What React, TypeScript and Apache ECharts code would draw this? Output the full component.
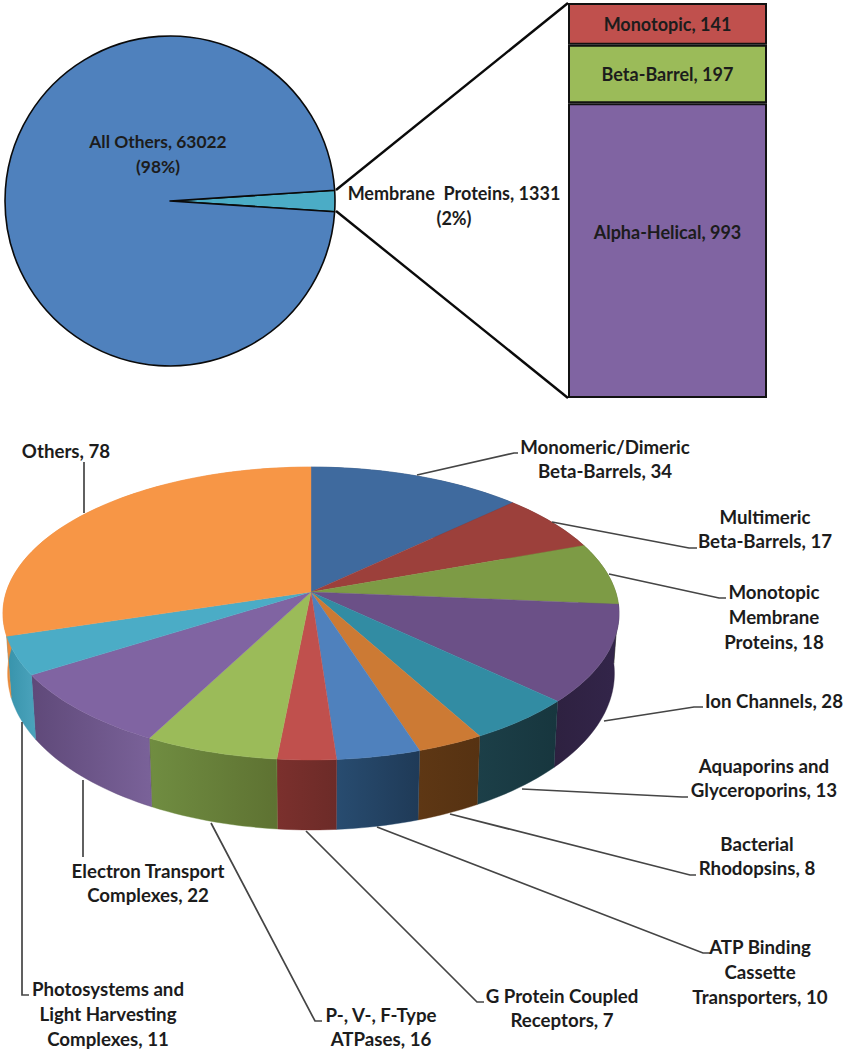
import React, { useEffect, useRef } from "react";
import * as echarts from "echarts";

// ---------- data ----------
const overviewNames = ["Membrane  Proteins", "All Others"];
const overviewValues = [1331, 63022];
const overviewPercents = ["2%", "98%"];

const classNames = ["Alpha-Helical", "Beta-Barrel", "Monotopic"];
const classValues = [993, 197, 141];

const familyNames = [
  "Monomeric/Dimeric\nBeta-Barrels",
  "Multimeric\nBeta-Barrels",
  "Monotopic\nMembrane\nProteins",
  "Ion Channels",
  "Aquaporins and\nGlyceroporins",
  "Bacterial\nRhodopsins",
  "ATP Binding\nCassette\nTransporters",
  "G Protein Coupled\nReceptors",
  "P-, V-, F-Type\nATPases",
  "Electron Transport\nComplexes",
  "Photosystems and\nLight Harvesting\nComplexes",
  "Others",
];
const familyValues = [34, 17, 18, 28, 13, 8, 10, 7, 16, 22, 11, 78];

// ---------- styles ----------
const FONT = "Lato";
const TEXT = "#1c1c1c";
const overviewColors = ["#4BACC6", "#4F81BD"];
const classColors = ["#8064A2", "#9BBB59", "#C0504D"];
const classLabelOffsets = [[0, -19], [0, 0], [0, 0]];
const topColors = ["#3F6A9E", "#9C403B", "#7D9B45", "#6B5087", "#328CA3", "#CC7A34", "#4F81BD", "#C0504D", "#9BBB59", "#8064A2", "#4BACC6", "#F79646"];
const wallColors = [
  ["#2A4A70", "#2A4A70"], ["#6E2D2A", "#6E2D2A"], ["#5A7032", "#5A7032"],
  ["#2E2140", "#33254A"], ["#1C3F48", "#17363E"], ["#5E3714", "#563212"],
  ["#284C70", "#1F3A57"], ["#7B302D", "#6C2B28"], ["#708D41", "#5E7232"],
  ["#5F4979", "#7A6299"], ["#3793AB", "#4BA3BC"], ["#E88A3C", "#F08F40"],
];

// label centre (x, y of block middle) and leader polyline, same order as families
const familyLabelPos = [
  [605, 459], [765, 529], [774, 617], [774, 701], [764, 778], [757, 856],
  [760, 972], [562, 1008], [381, 1027], [148, 883], [108, 1014], [66, 451],
];
const leaders = [
  [[417, 475], [514, 453], [518, 453]],
  [[552, 522], [689, 548], [697, 548]],
  [[609, 574], [719, 598], [726, 598]],
  [[604, 721], [694, 707], [703, 707]],
  [[522, 789], [682, 797], [688, 797]],
  [[450, 814], [690, 875], [696, 875]],
  [[377, 827], [703, 953], [710, 953]],
  [[306, 831], [477, 1002], [484, 1002]],
  [[211, 823], [315, 1021], [322, 1021]],
  [[83, 780], [83, 857]],
  [[22, 722], [22, 995], [29, 995]],
  [[84, 462], [84, 513]],
];

// perspective disc geometry
const CX = 311, CY = 592, BX = 304.7, AY = 143.3, K = 0.1468;
const project = (theta: number) => {
  const u = Math.sin(theta), v = -Math.cos(theta), w = 1 - K * v;
  return { x: CX + (BX * u) / w, y: CY + (AY * v) / w, v };
};
const projectBottom = (theta: number) => {
  const p = project(theta);
  return [CX + (p.x - CX) * 0.985, p.y + 58 + 12 * Math.max(p.v, 0)];
};

const familyTotal = familyValues.reduce((a, b) => a + b, 0);
const sliceRange = (i: number) => {
  const before = familyValues.slice(0, i).reduce((a, b) => a + b, 0);
  return [(before / familyTotal) * Math.PI * 2, ((before + familyValues[i]) / familyTotal) * Math.PI * 2];
};
const arcThetas = (a: number, b: number) => {
  const n = Math.max(2, Math.ceil((b - a) / (Math.PI / 120)));
  return Array.from({ length: n + 1 }, (_, k) => a + ((b - a) * k) / n);
};

const renderWall = (params: any) => {
  const i = params.dataIndex;
  const [a, b] = sliceRange(i);
  const ts = arcThetas(a, b);
  const top = ts.map((t) => { const p = project(t); return [p.x, p.y]; });
  const bottom = ts.map(projectBottom).reverse();
  const [c0, c1] = wallColors[i];
  const fill: any = { type: "linear", x: 0, y: 0, x2: 1, y2: 0, colorStops: [{ offset: 0, color: c0 }, { offset: 1, color: c1 }] };
  return { type: "polygon", shape: { points: [...top, ...bottom] }, style: { fill, stroke: c0, lineWidth: 0.4 } };
};
const renderTop = (params: any) => {
  const i = params.dataIndex;
  const [a, b] = sliceRange(i);
  const pts = arcThetas(a, b).map((t) => { const p = project(t); return [p.x, p.y]; });
  return { type: "polygon", shape: { points: [[CX, CY], ...pts] }, style: { fill: topColors[i], stroke: topColors[i], lineWidth: 0.4 } };
};

const txt = (text: string, x: number, y: number, fontSize = 18.7, lineHeight = 24.6) => ({
  type: "text", z: 100, x, y, silent: true,
  style: { text, fill: TEXT, font: `bold ${fontSize}px ${FONT}`, lineHeight, align: "center", verticalAlign: "middle" },
});
const blackLine = (x1: number, y1: number, x2: number, y2: number) => ({
  type: "line", z: 100, silent: true, shape: { x1, y1, x2, y2 }, style: { stroke: "#0a0a0a", lineWidth: 2.4 },
});

const overviewTotal = overviewValues.reduce((a, b) => a + b, 0);
const halfSliceDeg = ((overviewValues[0] / overviewTotal) * 360) / 2;

export default function App() {
  const ref = useRef<HTMLDivElement>(null);
  useEffect(() => {
    const chart = echarts.init(ref.current!, undefined, { renderer: "svg" });
    const option: any = {
      animation: false,
      backgroundColor: "#ffffff",
      grid: { left: 568, top: 3, width: 199, height: 395, containLabel: false },
      xAxis: { type: "category", data: ["Membrane Proteins"], show: false },
      yAxis: { type: "value", min: 0, max: overviewValues[0], show: false },
      series: [
        {
          type: "pie",
          center: [170, 201],
          radius: [0, 165],
          startAngle: halfSliceDeg,
          clockwise: true,
          label: { show: false },
          labelLine: { show: false },
          silent: true,
          itemStyle: { borderColor: "#0a0a0a", borderWidth: 1.6 },
          data: overviewNames.map((name, i) => ({ name, value: overviewValues[i], itemStyle: { color: overviewColors[i] } })),
        },
        ...classNames.map((name, i) => ({
          type: "bar",
          name,
          stack: "classes",
          barWidth: "100%",
          silent: true,
          data: [classValues[i]],
          itemStyle: { color: classColors[i], borderColor: "#111111", borderWidth: 2 },
          label: {
            show: true, position: "inside", formatter: "{a}, {c}", offset: classLabelOffsets[i],
            color: TEXT, fontFamily: FONT, fontWeight: "bold", fontSize: 18,
          },
        })),
        { type: "custom", coordinateSystem: "none", silent: true, z: 3, renderItem: renderWall, data: familyValues.map((v, i) => [i, v]) },
        { type: "custom", coordinateSystem: "none", silent: true, z: 4, renderItem: renderTop, data: familyValues.map((v, i) => [i, v]) },
      ],
      graphic: [
        blackLine(336, 190, 568, 3),
        blackLine(336, 211, 568, 398),
        txt(`${overviewNames[1]}, ${overviewValues[1]}\n(${overviewPercents[1]})`, 158, 154, 17.4),
        txt(`${overviewNames[0]}, ${overviewValues[0]}\n(${overviewPercents[0]})`, 454, 205.5, 18),
        ...leaders.map((points) => ({
          type: "polyline", z: 100, silent: true, shape: { points },
          style: { stroke: "#454545", lineWidth: 1.7, fill: "none" },
        })),
        ...familyNames.map((name, i) => txt(`${name}, ${familyValues[i]}`, familyLabelPos[i][0], familyLabelPos[i][1])),
      ],
    };
    chart.setOption(option);
    return () => chart.dispose();
  }, []);
  return <div ref={ref} style={{ position: "absolute", left: 0, top: 0, width: 845, height: 1050 }} />;
}
